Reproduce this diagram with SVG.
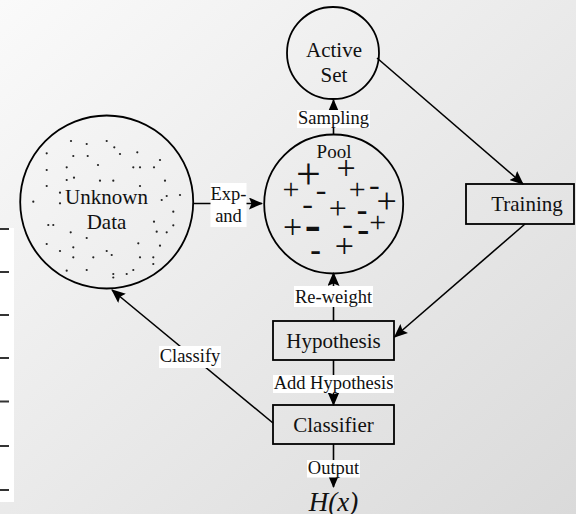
<svg xmlns="http://www.w3.org/2000/svg" width="576" height="514" viewBox="0 0 576 514">
  <defs>
    <linearGradient id="bg" x1="0" y1="0" x2="1" y2="1">
      <stop offset="0" stop-color="#fafafa"/>
      <stop offset="1" stop-color="#dadada"/>
    </linearGradient>
    <marker id="arrow" viewBox="0 0 14 12" refX="13" refY="6" markerWidth="14" markerHeight="12" markerUnits="userSpaceOnUse" orient="auto">
      <path d="M0,0 L14,6 L0,12 L2.5,6 z" fill="#000"/>
    </marker>
  </defs>
  <style>
    .shape { fill: none; stroke: #000; stroke-width: 1.8; }
    .edge { fill: none; stroke: #000; stroke-width: 1.6; marker-end: url(#arrow); }
    .node { font-family: "Liberation Serif", "Times New Roman", serif; font-size: 21px; fill: #111; text-anchor: middle; }
    .lbl { font-family: "Liberation Serif", "Times New Roman", serif; font-size: 18.5px; fill: #111; text-anchor: middle; }
    .lblbg { fill: #fff; }
    .dot { fill: #222; }
    .sym { font-family: "Liberation Serif", "Times New Roman", serif; fill: #111; text-anchor: middle; }
    .tick { stroke: #333; stroke-width: 2; }
  </style>

  <!-- backdrop -->
  <rect x="0" y="0" width="576" height="514" fill="url(#bg)"/>

  <!-- white strip with tick marks on the left edge -->
  <g id="side-strip">
    <rect x="0" y="228" width="14" height="274" fill="#fff"/>
    <line class="tick" x1="0" y1="229" x2="9" y2="229"/>
    <line class="tick" x1="0" y1="272" x2="9" y2="272"/>
    <line class="tick" x1="0" y1="315" x2="9" y2="315"/>
    <line class="tick" x1="0" y1="358" x2="9" y2="358"/>
    <line class="tick" x1="0" y1="401.5" x2="9" y2="401.5"/>
    <line class="tick" x1="0" y1="446" x2="9" y2="446"/>
    <line class="tick" x1="0" y1="490" x2="9" y2="490"/>
  </g>

  <!-- connectors -->
  <g id="connectors">
    <line class="edge" x1="193" y1="203.5" x2="262" y2="203.5"/>
    <line class="edge" x1="333.5" y1="135" x2="333.5" y2="100"/>
    <line class="edge" x1="377" y1="58" x2="523" y2="184"/>
    <line class="edge" x1="525" y1="224" x2="394.5" y2="337"/>
    <line class="edge" x1="333.5" y1="321" x2="333.5" y2="273"/>
    <line class="edge" x1="333.5" y1="360" x2="333.5" y2="405"/>
    <line class="edge" x1="333.5" y1="444" x2="333.5" y2="487"/>
    <line class="edge" x1="273" y1="423" x2="112" y2="290"/>

    <!-- connector labels -->
    <rect class="lblbg" x="210.5" y="183" width="36" height="44"/>
    <text class="lbl" x="228.5" y="200">Exp-</text>
    <text class="lbl" x="228.5" y="221.5">and</text>

    <rect class="lblbg" x="297" y="110" width="73" height="18"/>
    <text class="lbl" x="333.5" y="123.5">Sampling</text>

    <rect class="lblbg" x="294" y="286" width="79" height="21"/>
    <text class="lbl" x="333.5" y="302.5">Re-weight</text>

    <rect class="lblbg" x="273" y="375" width="121" height="18"/>
    <text class="lbl" x="333.5" y="389">Add Hypothesis</text>

    <rect class="lblbg" x="307" y="460" width="53" height="17.5"/>
    <text class="lbl" x="333.5" y="474">Output</text>

    <rect class="lblbg" x="159" y="346" width="62" height="22"/>
    <text class="lbl" x="190" y="361.5">Classify</text>
  </g>

  <!-- Active Set -->
  <g id="active-set">
    <circle class="shape" cx="333" cy="53" r="46"/>
    <text class="node" x="334" y="57">Active</text>
    <text class="node" x="334" y="82">Set</text>
  </g>

  <!-- Unknown Data -->
  <g id="unknown-data">
    <circle class="shape" cx="106.7" cy="202" r="86.5"/>
    <text class="node" x="106.5" y="204">Unknown</text>
    <text class="node" x="106.5" y="229.3">Data</text>
    <g class="dot">
      <circle cx="71" cy="141" r="1.1"/>
      <circle cx="86.7" cy="144" r="1.1"/>
      <circle cx="106.7" cy="141" r="1.1"/>
      <circle cx="114.3" cy="147.3" r="1.1"/>
      <circle cx="46.7" cy="153.3" r="1.1"/>
      <circle cx="73.3" cy="156" r="1.1"/>
      <circle cx="87.7" cy="156" r="1.1"/>
      <circle cx="120" cy="154" r="1.1"/>
      <circle cx="137.3" cy="152.3" r="1.1"/>
      <circle cx="160" cy="160" r="1.1"/>
      <circle cx="98" cy="165" r="1.1"/>
      <circle cx="46.7" cy="170" r="1.1"/>
      <circle cx="66.7" cy="167.3" r="1.1"/>
      <circle cx="133.3" cy="167.3" r="1.1"/>
      <circle cx="140" cy="167.3" r="1.1"/>
      <circle cx="154" cy="167.3" r="1.1"/>
      <circle cx="66.7" cy="180" r="1.1"/>
      <circle cx="74" cy="177.7" r="1.1"/>
      <circle cx="100" cy="180.7" r="1.1"/>
      <circle cx="113.3" cy="180.7" r="1.1"/>
      <circle cx="165" cy="180.7" r="1.1"/>
      <circle cx="46.7" cy="186" r="1.1"/>
      <circle cx="140" cy="186" r="1.1"/>
      <circle cx="60" cy="192.7" r="1.1"/>
      <circle cx="60" cy="203.3" r="1.1"/>
      <circle cx="33.3" cy="201.7" r="1.1"/>
      <circle cx="161.7" cy="200" r="1.1"/>
      <circle cx="166.7" cy="196" r="1.1"/>
      <circle cx="180" cy="195" r="1.1"/>
      <circle cx="173.3" cy="211.7" r="1.1"/>
      <circle cx="48.3" cy="225" r="1.1"/>
      <circle cx="53.3" cy="225" r="1.1"/>
      <circle cx="70.7" cy="232.3" r="1.1"/>
      <circle cx="86.7" cy="238" r="1.1"/>
      <circle cx="154" cy="221.7" r="1.1"/>
      <circle cx="156.7" cy="231.7" r="1.1"/>
      <circle cx="166.7" cy="232.3" r="1.1"/>
      <circle cx="173.3" cy="225.3" r="1.1"/>
      <circle cx="46.7" cy="244" r="1.1"/>
      <circle cx="73.3" cy="247.3" r="1.1"/>
      <circle cx="138.3" cy="243.3" r="1.1"/>
      <circle cx="160" cy="245.7" r="1.1"/>
      <circle cx="60" cy="251" r="1.1"/>
      <circle cx="106.7" cy="251" r="1.1"/>
      <circle cx="111.7" cy="255" r="1.1"/>
      <circle cx="73.3" cy="257.3" r="1.1"/>
      <circle cx="93.3" cy="257.3" r="1.1"/>
      <circle cx="140" cy="257.3" r="1.1"/>
      <circle cx="153.3" cy="257.3" r="1.1"/>
      <circle cx="153.3" cy="264" r="1.1"/>
      <circle cx="66.7" cy="270.7" r="1.1"/>
      <circle cx="86.7" cy="270" r="1.1"/>
      <circle cx="113.3" cy="274" r="1.1"/>
      <circle cx="113.3" cy="277.5" r="1.1"/>
      <circle cx="126.7" cy="274" r="1.1"/>
      <circle cx="133.3" cy="270" r="1.1"/>
    </g>
  </g>

  <!-- Pool with signed samples -->
  <g id="pool">
    <circle class="shape" cx="333.7" cy="204" r="69.5"/>
    <text class="lbl" x="334" y="158.3" style="font-size:19px">Pool</text>
    <g class="sym">
      <text x="308.3" y="188.7" font-size="44">+</text>
      <text x="346" y="179.2" font-size="34">+</text>
      <text x="291" y="198.5" font-size="30">+</text>
      <text x="357.3" y="198.5" font-size="30">+</text>
      <text x="386.7" y="213" font-size="36">+</text>
      <text x="337.7" y="218.7" font-size="32">+</text>
      <text x="292.7" y="237.8" font-size="34">+</text>
      <text x="377.7" y="231.8" font-size="30">+</text>
      <text x="344.3" y="256.8" font-size="34">+</text>

      <text x="321" y="199.9" font-size="32">-</text>
      <text x="374.3" y="194.5" font-size="32">-</text>
      <text x="307.7" y="213.9" font-size="32">-</text>
      <text x="362" y="219.9" font-size="32" font-weight="bold">-</text>
      <text x="312.7" y="239.5" font-size="48" font-weight="bold">-</text>
      <text x="347.7" y="233.9" font-size="32">-</text>
      <text x="363.3" y="241.4" font-size="36" font-weight="bold">-</text>
      <text x="315.7" y="259.5" font-size="32" font-weight="bold">-</text>
    </g>
  </g>

  <!-- Training -->
  <g id="training">
    <rect class="shape" x="466" y="184" width="108" height="40"/>
    <text class="node" x="527" y="211">Training</text>
  </g>

  <!-- Hypothesis -->
  <g id="hypothesis">
    <rect class="shape" x="273" y="321" width="121" height="39"/>
    <text class="node" x="333.5" y="347.5">Hypothesis</text>
  </g>

  <!-- Classifier -->
  <g id="classifier">
    <rect class="shape" x="273" y="405" width="121" height="39"/>
    <text class="node" x="333.5" y="431.5">Classifier</text>
  </g>

  <!-- final output -->
  <g id="output">
    <text x="333.5" y="511" style="font-family:'Liberation Serif','Times New Roman',serif;font-size:27px;font-style:italic;fill:#111;text-anchor:middle">H(x)</text>
  </g>
</svg>
